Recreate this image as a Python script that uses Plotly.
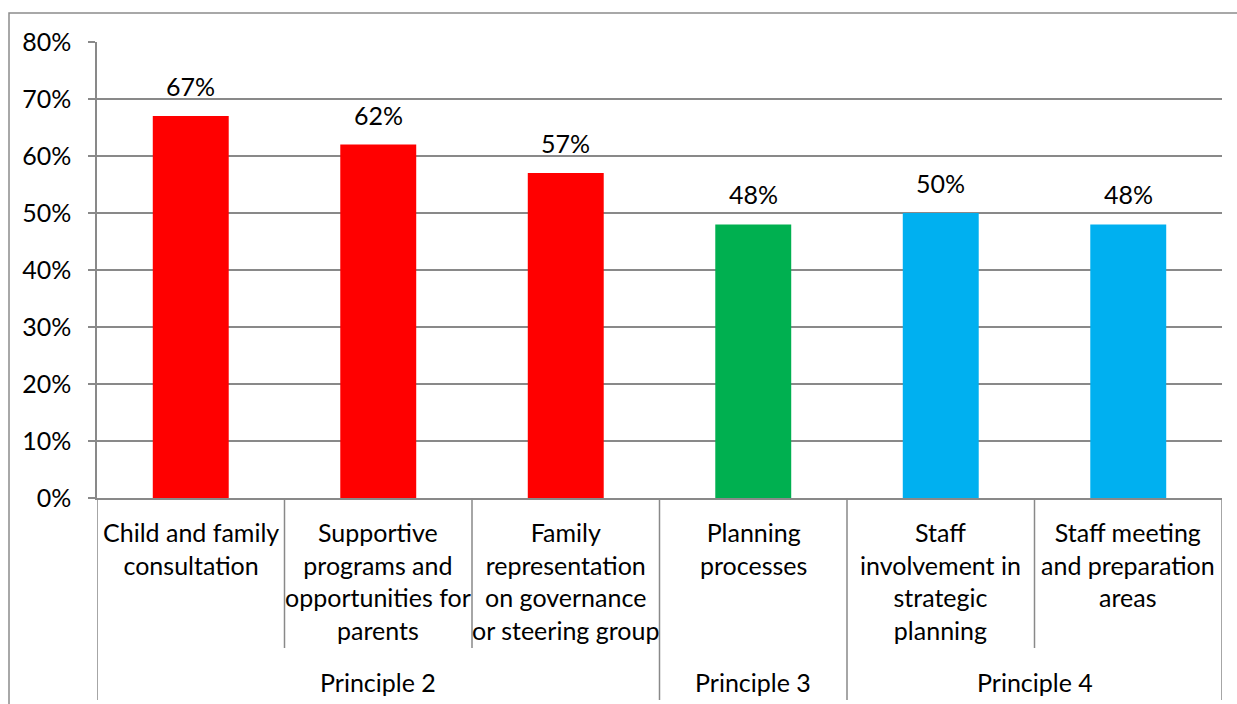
import plotly.graph_objects as go

# Survey results by practice area, grouped by principle
categories = [
    "Child and family<br>consultation",
    "Supportive<br>programs and<br>opportunities for<br>parents",
    "Family<br>representation<br>on governance<br>or steering group",
    "Planning<br>processes",
    "Staff<br>involvement in<br>strategic<br>planning",
    "Staff meeting<br>and preparation<br>areas",
]
values = [67, 62, 57, 48, 50, 48]
principles = ["Principle 2", "Principle 2", "Principle 2", "Principle 3", "Principle 4", "Principle 4"]
principle_colors = {"Principle 2": "#FF0000", "Principle 3": "#00B050", "Principle 4": "#00B0F0"}
y_ticks = [0, 10, 20, 30, 40, 50, 60, 70, 80]
y_tick_labels = [f"{t}%" for t in y_ticks]

FONT = "Lato"
FS = 25
GRID = "#898989"

W, H = 1237, 704
ML, MR, MT, MB = 97, 15, 42, 206
plot_w = W - ML - MR
plot_h = H - MT - MB

def py(px):
    # pixel row -> paper y
    return (H - MB - px) / plot_h

def pxx(px):
    # pixel column -> paper x
    return (px - ML) / plot_w

x_idx = list(range(len(categories)))

fig = go.Figure(
    go.Bar(
        x=x_idx,
        y=values,
        width=0.405,
        marker=dict(color=[principle_colors[p] for p in principles], line=dict(width=0)),
        hoverinfo="skip",
    )
)

annotations = []
# value labels above bars
for i, v in zip(x_idx, values):
    annotations.append(dict(
        x=i, y=v, xref="x", yref="y", text=f"{v}%", showarrow=False,
        yanchor="bottom", yshift=13, font=dict(family=FONT, size=FS, color="black"),
    ))
# inner category labels
for i, c in zip(x_idx, categories):
    annotations.append(dict(
        x=i, y=0, xref="x", yref="paper", text=c, showarrow=False,
        yanchor="top", yshift=-17, font=dict(family=FONT, size=FS, color="black"),
    ))

# group spans for the outer level
groups = []
for i, p in enumerate(principles):
    if groups and groups[-1][0] == p:
        groups[-1][2] = i
    else:
        groups.append([p, i, i])

for p, a, b in groups:
    annotations.append(dict(
        x=(a + b) / 2, y=py(682), xref="x", yref="paper", text=p, showarrow=False,
        yanchor="middle", font=dict(family=FONT, size=FS, color="black"),
    ))

shapes = []
outer_bounds = [groups[0][1] - 0.5] + [g[2] + 0.5 for g in groups]
inner_bounds = [i + 0.5 for i in x_idx[:-1] if (i + 0.5) not in outer_bounds]
for xb in inner_bounds:
    shapes.append(dict(type="line", xref="x", yref="paper", x0=xb, x1=xb, y0=0, y1=py(648),
                       line=dict(color=GRID, width=1.5)))
for xb in outer_bounds:
    shapes.append(dict(type="line", xref="x", yref="paper", x0=xb, x1=xb, y0=0, y1=py(700),
                       line=dict(color=GRID, width=1.5)))
# chart frame
shapes.append(dict(type="rect", xref="paper", yref="paper",
                   x0=pxx(9), x1=pxx(1250), y0=py(13), y1=py(720),
                   line=dict(color="#8c8c8c", width=1.5), fillcolor="rgba(0,0,0,0)", layer="below"))

fig.update_layout(
    width=W, height=H,
    margin=dict(l=ML, r=MR, t=MT, b=MB),
    paper_bgcolor="white", plot_bgcolor="white",
    font=dict(family=FONT, size=FS, color="black"),
    showlegend=False,
    annotations=annotations,
    shapes=shapes,
    bargap=0.6,
)
fig.update_xaxes(
    range=[-0.5, len(categories) - 0.5], showticklabels=False, ticks="",
    showgrid=False, zeroline=False, showline=True, linecolor=GRID, linewidth=1.5,
    fixedrange=True,
)
fig.update_yaxes(
    range=[0, 80], tickvals=y_ticks, ticktext=y_tick_labels,
    showgrid=True, gridcolor=GRID, gridwidth=1.5,
    showline=True, linecolor=GRID, linewidth=1.5,
    ticks="outside", ticklen=7, tickcolor=GRID, tickwidth=1.5,
    ticklabelstandoff=12, zeroline=False, fixedrange=True,
    tickfont=dict(family=FONT, size=FS, color="black"),
)

fig.write_html("out.html")
